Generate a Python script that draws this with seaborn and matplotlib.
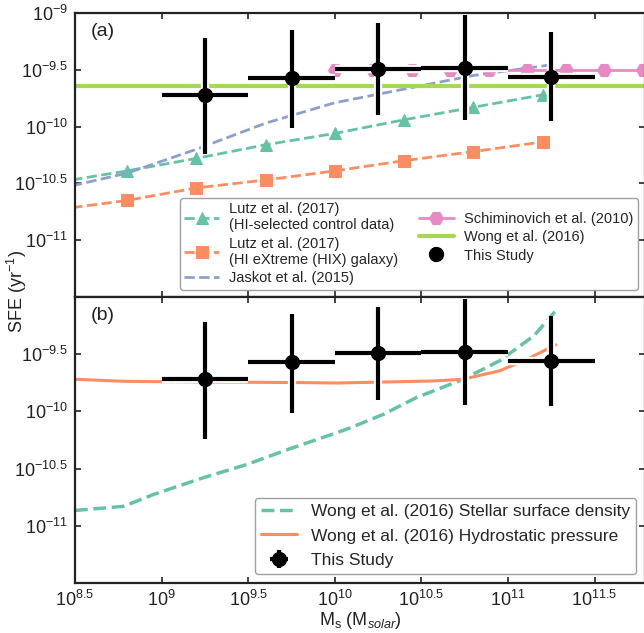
import numpy as np
import pandas as pd
import matplotlib
matplotlib.use("Agg")
import matplotlib.pyplot as plt
import matplotlib.patheffects as pe
from matplotlib.ticker import FixedLocator, NullLocator
import seaborn as sns

# ---------------- data (log10 values) ----------------
# This Study
study_logm = [9.25, 9.75, 10.25, 10.75, 11.25]
study_logsfe = [-9.72, -9.57, -9.49, -9.48, -9.56]
study_err_lo = [0.52, 0.44, 0.41, 0.46, 0.39]
study_err_hi = [0.50, 0.42, 0.40, 0.46, 0.39]
study_halfbin = 0.25

# Lutz et al. (2017) HI-selected control data
lutz_ctrl_logm = [8.4, 8.8, 9.2, 9.6, 10.0, 10.4, 10.8, 11.2]
lutz_ctrl_logsfe = [-10.49, -10.39, -10.28, -10.16, -10.06, -9.94, -9.83, -9.72]

# Lutz et al. (2017) HIX galaxy
lutz_hix_logm = [8.4, 8.8, 9.2, 9.6, 10.0, 10.4, 10.8, 11.2]
lutz_hix_logsfe = [-10.73, -10.65, -10.54, -10.47, -10.39, -10.30, -10.22, -10.135]

# Jaskot et al. (2015)
jaskot_logm = [8.4, 8.8, 9.2, 9.6, 10.0, 10.4, 10.8, 11.23]
jaskot_logsfe = [-10.55, -10.41, -10.20, -9.97, -9.79, -9.67, -9.55, -9.46]

# Schiminovich et al. (2010)
schim_logm = [10.0, 10.222, 10.444, 10.667, 10.889, 11.111, 11.333, 11.556, 11.778]
schim_logsfe = [-9.5, -9.5, -9.5, -9.5, -9.5, -9.5, -9.5, -9.5, -9.5]

# Wong et al. (2016) constant
wong_const_logsfe = -9.646

# Wong et al. (2016) stellar surface density
wong_sd_logm = [8.5, 8.78, 8.95, 9.24, 9.49, 9.74, 10.01, 10.09, 10.28, 10.47, 10.74, 10.95, 11.15, 11.27]
wong_sd_logsfe = [-10.866, -10.83, -10.728, -10.58, -10.465, -10.327, -10.187, -10.143, -10.026, -9.88, -9.72, -9.559, -9.339, -9.129]

# Wong et al. (2016) hydrostatic pressure
wong_hp_logm = [8.5, 8.78, 9.22, 9.8, 10.01, 10.57, 10.74, 10.95, 11.11, 11.275]
wong_hp_logsfe = [-9.719, -9.737, -9.743, -9.748, -9.752, -9.734, -9.719, -9.646, -9.544, -9.418]

xtick_exps = ["8.5", "9", "9.5", "10", "10.5", "11", "11.5"]
ytick_exps_top = ["-9", "-9.5", "-10", "-10.5", "-11"]
ytick_exps_bot = ["-9.5", "-10", "-10.5", "-11"]

# ---------------- style ----------------
sns.set_theme(style="white")
plt.rcParams["font.family"] = ["Liberation Sans", "DejaVu Sans"]
plt.rcParams["mathtext.fontset"] = "custom"
plt.rcParams["mathtext.rm"] = "Liberation Sans"
plt.rcParams["mathtext.it"] = "Liberation Sans:italic"
plt.rcParams["mathtext.default"] = "regular"

pal = sns.color_palette("Set2")
c_teal, c_orange, c_blue, c_pink, c_lime = pal[0], pal[1], pal[2], pal[3], pal[4]

W, H = 644, 633
fig = plt.figure(figsize=(W / 100, H / 100), dpi=100)
left = 75 / W
right = 645 / W
ax1 = fig.add_axes([left, 1 - 297 / H, right - left, (297 - 13) / H])
ax2 = fig.add_axes([left, 1 - 583 / H, right - left, (583 - 297) / H])

xmin, xmax = 10 ** 8.5, 10 ** (8.5 + (645 - 75) / 173.2)
ymin, ymax = 10 ** -11.5, 10 ** -9.0


def p10(a):
    return 10 ** np.asarray(a, dtype=float)


for ax in (ax1, ax2):
    ax.set_xscale("log")
    ax.set_yscale("log")
    ax.set_xlim(xmin, xmax)
    ax.set_ylim(ymin, ymax)

# ---- top panel ----
sns.lineplot(x=p10(lutz_ctrl_logm), y=p10(lutz_ctrl_logsfe), ax=ax1, color=c_teal,
             linestyle="--", lw=2, marker="^", markersize=9, markeredgecolor=c_teal,
             label="Lutz et al. (2017)\n(HI-selected control data)", sort=False, estimator=None)
sns.lineplot(x=p10(lutz_hix_logm), y=p10(lutz_hix_logsfe), ax=ax1, color=c_orange,
             linestyle="--", lw=2, marker="s", markersize=9, markeredgecolor=c_orange,
             label="Lutz et al. (2017)\n(HI eXtreme (HIX) galaxy)", sort=False, estimator=None)
sns.lineplot(x=p10(jaskot_logm), y=p10(jaskot_logsfe), ax=ax1, color=c_blue,
             linestyle="--", lw=2, label="Jaskot et al. (2015)", sort=False, estimator=None)
sns.lineplot(x=p10(schim_logm), y=p10(schim_logsfe), ax=ax1, color=c_pink,
             linestyle="-", lw=2, marker="H", markersize=10, markeredgecolor=c_pink,
             label="Schiminovich et al. (2010)", sort=False, estimator=None)
ax1.axhline(10 ** wong_const_logsfe, color=c_lime, lw=3, label="Wong et al. (2016)")

# ---- bottom panel ----
sns.lineplot(x=p10(wong_sd_logm), y=p10(wong_sd_logsfe), ax=ax2, color=c_teal,
             linestyle="--", lw=2.5, label="Wong et al. (2016) Stellar surface density",
             sort=False, estimator=None)
sns.lineplot(x=p10(wong_hp_logm), y=p10(wong_hp_logsfe), ax=ax2, color=c_orange,
             linestyle="-", lw=2.2, label="Wong et al. (2016) Hydrostatic pressure",
             sort=False, estimator=None)

# ---- This Study ----
sx = p10(study_logm)
sy = p10(study_logsfe)
xerr = [sx - p10(np.array(study_logm) - study_halfbin), p10(np.array(study_logm) + study_halfbin) - sx]
yerr = [sy - p10(np.array(study_logsfe) - np.array(study_err_lo)),
        p10(np.array(study_logsfe) + np.array(study_err_hi)) - sy]
for ax in (ax1, ax2):
    cont = ax.errorbar(sx, sy, xerr=xerr, yerr=yerr, fmt="o", color="black", ms=10,
                       elinewidth=3, capsize=0, label="This Study", zorder=5)
    for lc in cont[2]:
        lc.set_path_effects([pe.Stroke(linewidth=6, foreground="white"), pe.Normal()])

# ---- axes formatting ----
xt = [10 ** float(e) for e in xtick_exps]
for ax, yexps in ((ax1, ytick_exps_top), (ax2, ytick_exps_bot)):
    ax.set_xticks(xt)
    ax.set_yticks([10 ** float(e) for e in yexps])
    ax.set_yticklabels(["$10^{%s}$" % e for e in yexps])
    ax.xaxis.set_minor_locator(NullLocator())
    ax.yaxis.set_minor_locator(NullLocator())
    ax.tick_params(direction="in", which="both", top=True, right=True, left=True, bottom=True,
                   length=4, width=1.2, color="#222222", labelsize=13, pad=5,
                   labelcolor="#222222")
    for s in ax.spines.values():
        s.set_color("#222222")
        s.set_linewidth(1.6)
    ax.set_xlim(xmin, xmax)
    ax.set_ylim(ymin, ymax)

ax1.set_xticklabels([])
ax2.set_xticklabels(["$10^{%s}$" % e for e in xtick_exps])

ax1.text(0.027, 0.935, "(a)", transform=ax1.transAxes, fontsize=14, va="center", ha="left",
         color="#222222")
ax2.text(0.027, 0.937, "(b)", transform=ax2.transAxes, fontsize=14, va="center", ha="left",
         color="#222222")

ax2.set_xlabel(r"M$_\mathrm{s}$ (M$_{\mathit{solar}}$)", fontsize=13, color="#222222", labelpad=0)
fig.text(17 / W, 1 - 292 / H, r"SFE (yr$^{-1}$)", rotation=90, va="center", ha="center",
         fontsize=13, color="#222222")

# ---- legends ----
h1, l1 = ax1.get_legend_handles_labels()
order1 = ["Lutz et al. (2017)\n(HI-selected control data)", "Lutz et al. (2017)\n(HI eXtreme (HIX) galaxy)",
          "Jaskot et al. (2015)", "Schiminovich et al. (2010)", "Wong et al. (2016)", "This Study"]
hd1 = dict(zip(l1, h1))
leg1 = ax1.legend([hd1[k] for k in order1], order1, loc="lower right", ncol=2, fontsize=10.5,
                  frameon=True, fancybox=True, edgecolor="#888888", handlelength=2.4,
                  handletextpad=0.7, labelspacing=0.3, columnspacing=1.4, borderpad=0.3)
leg1.get_frame().set_linewidth(1.0)

h2, l2 = ax2.get_legend_handles_labels()
order2 = ["Wong et al. (2016) Stellar surface density", "Wong et al. (2016) Hydrostatic pressure", "This Study"]
hd2 = dict(zip(l2, h2))
leg2 = ax2.legend([hd2[k] for k in order2], order2, loc="lower right", fontsize=12.5,
                  frameon=True, fancybox=True, edgecolor="#888888", handlelength=2.1,
                  labelspacing=0.55, borderpad=0.35)
leg2.get_frame().set_linewidth(1.0)

fig.savefig("out.png", dpi=100)
